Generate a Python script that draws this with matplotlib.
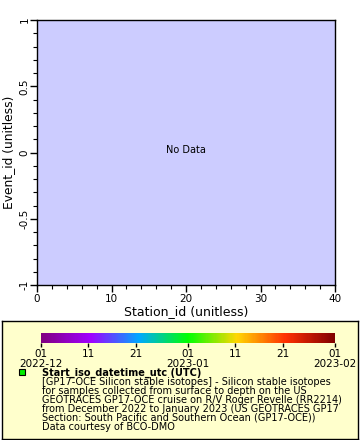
import matplotlib
matplotlib.use("Agg")
import matplotlib.pyplot as plt
import matplotlib.dates as mdates
from matplotlib.colors import LinearSegmentedColormap, Normalize
from matplotlib.colorbar import ColorbarBase
from matplotlib.ticker import MultipleLocator
import datetime as dt

# ---- data / labels ----
x_label = "Station_id (unitless)"
y_label = "Event_id (unitless)"
x_range = [0, 40]
y_range = [-1, 1]
no_data_text = "No Data"
cbar_start = dt.datetime(2022, 12, 1)
cbar_end = dt.datetime(2023, 2, 1)
cbar_tick_dates = [dt.datetime(2022, 12, 1), dt.datetime(2022, 12, 11), dt.datetime(2022, 12, 21),
                   dt.datetime(2023, 1, 1), dt.datetime(2023, 1, 11), dt.datetime(2023, 1, 21),
                   dt.datetime(2023, 2, 1)]
cbar_tick_labels = ["01\n2022-12", "11", "21", "01\n2023-01", "11", "21", "01\n2023-02"]
legend_title = "Start_iso_datetime_utc (UTC)"
legend_lines = [
    "[GP17-OCE Silicon stable isotopes] - Silicon stable isotopes",
    "for samples collected from surface to depth on the US",
    "GEOTRACES GP17-OCE cruise on R/V Roger Revelle (RR2214)",
    "from December 2022 to January 2023 (US GEOTRACES GP17",
    "Section: South Pacific and Southern Ocean (GP17-OCE))",
    "Data courtesy of BCO-DMO",
]

W, H = 360, 440
fig = plt.figure(figsize=(W / 100, H / 100), dpi=100)
fig.patch.set_facecolor("white")

def fx(px):
    return px / W

def fy(py):
    return 1 - py / H

# ---- main axes ----
ax = fig.add_axes([fx(37), fy(285), fx(335) - fx(37), fy(20) - fy(285)])
ax.set_facecolor("#ccccff")
ax.set_xlim(*x_range)
ax.set_ylim(*y_range)
ax.xaxis.set_major_locator(MultipleLocator(10))
ax.xaxis.set_minor_locator(MultipleLocator(2))
ax.yaxis.set_major_locator(MultipleLocator(0.5))
ax.yaxis.set_minor_locator(MultipleLocator(0.1))
ax.tick_params(which="major", direction="out", length=5, width=1, labelsize=7.5, pad=1.5)
ax.tick_params(which="minor", direction="out", length=3, width=0.8)
ax.tick_params(axis="y", which="major", pad=0.5)
ax.set_yticks([-1, -0.5, 0, 0.5, 1])
ax.set_yticklabels(["-1", "-0.5", "0", "0.5", "1"], rotation=90, va="center")
for s in ax.spines.values():
    s.set_linewidth(1)
ax.set_xlabel(x_label, fontsize=9, labelpad=1)
ax.set_ylabel(y_label, fontsize=8.8, labelpad=3)
ax.text(0.5, 0.51, no_data_text, transform=ax.transAxes, ha="center", va="center", fontsize=7)

# ---- legend box (background axes) ----
lax = fig.add_axes([fx(2), fy(439), fx(358) - fx(2), fy(321) - fy(439)], zorder=1)
lax.set_facecolor("#ffffcc")
lax.set_xticks([])
lax.set_yticks([])
lax.set_xlim(0, 1)
lax.set_ylim(0, 1)
for s in lax.spines.values():
    s.set_linewidth(1)
    s.set_color("black")

cmap = LinearSegmentedColormap.from_list("erddap_rainbow", [
    (0.0, "#800080"), (0.167, "#a000ff"), (0.333, "#00a8ff"), (0.5, "#00ff00"),
    (0.667, "#ffd700"), (0.833, "#ff3000"), (1.0, "#800000")])

t0 = mdates.date2num(cbar_start)
t1 = mdates.date2num(cbar_end)
cax = fig.add_axes([fx(41), fy(342.5), fx(335) - fx(41), fy(333) - fy(342.5)], zorder=2)
cb = ColorbarBase(cax, cmap=cmap, norm=Normalize(vmin=t0, vmax=t1), orientation="horizontal")
cb.outline.set_visible(False)
cb.set_ticks([mdates.date2num(d) for d in cbar_tick_dates])
cb.set_ticklabels(cbar_tick_labels)
cax.tick_params(direction="out", length=3, width=1, labelsize=7.5, pad=1.5)
for lbl in cax.get_xticklabels():
    lbl.set_linespacing(1.0)

# legend marker and text
mx = (21.5 - 2) / (358 - 2)
my = (439 - 372) / (439 - 321)
lax.plot([mx], [my], marker="s", markersize=4.5, markerfacecolor="#00ee00",
         markeredgecolor="black", markeredgewidth=0.8, linestyle="none")
fig.text(fx(42.5), fy(372.5), legend_title, fontsize=7, fontweight="bold", va="center", ha="left", zorder=5)
for i, line in enumerate(legend_lines):
    fig.text(fx(42.5), fy(381.5 + 9.1 * i), line, fontsize=7, va="center", ha="left", zorder=5)

fig.savefig("out.png", dpi=100)
